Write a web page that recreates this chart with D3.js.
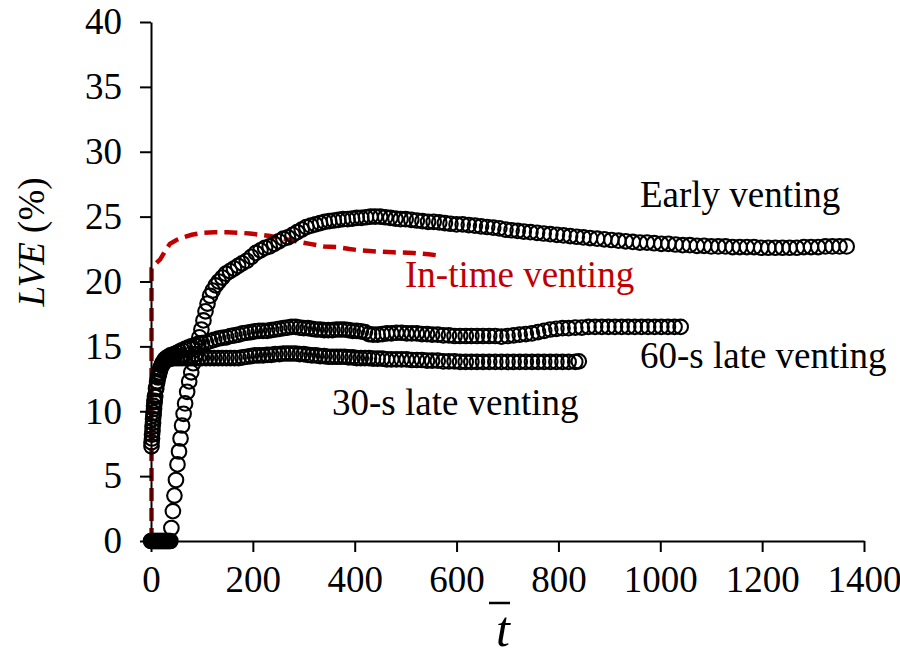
<!DOCTYPE html>
<html>
<head>
<meta charset="utf-8">
<script src="https://cdn.jsdelivr.net/npm/d3@7"></script>
<style>
  html, body { margin: 0; padding: 0; background: #fff; }
  svg { display: block; }
  svg text { font-family: "Liberation Serif", "Times New Roman", Times, "DejaVu Serif", serif !important; }
</style>
</head>
<body>
<svg id="chart" width="900" height="659"></svg>
<script>
// ---- Data ----
const xTicks = [0, 200, 400, 600, 800, 1000, 1200, 1400];
const yTicks = [0, 5, 10, 15, 20, 25, 30, 35, 40];

const seriesLabels = ["Early venting", "In-time venting", "60-s late venting", "30-s late venting"];

// In-time venting (red dashed line): [t, LVE]
const inTimeVenting = [[1,0],[1,21.0],[5,21.2],[10,21.4],[18,21.7],[27,22.3],[37,22.9],[50,23.2],[63,23.4],[80,23.6],[102,23.75],[125,23.8],[149,23.8],[175,23.75],[194,23.7],[214,23.6],[234,23.5],[260,23.3],[285,23.1],[312,22.9],[340,22.7],[365,22.65],[390,22.5],[410,22.4],[450,22.3],[476,22.25],[515,22.2],[545,22.1],[566,22.0]];

// Early venting (open circles)
const earlyVenting = [[0,0],[2,0],[4,0],[6,0],[8,0],[10,0],[12,0],[14,0],[16,0],[18,0],[20,0],[22,0],[24,0],[26,0],[28,0],[30,0],[32,0],[34,0],[36,0],[38,0],
[40,1.0],[43,2.3],[46,3.5],[49,4.7],[52,5.9],[55,6.9],[58,7.9],[61,8.9],[64,9.8],[67,10.6],[71,11.5],[75,12.3],[79,13.0],[83,13.7],[87,14.4],[91,15.0],[95,15.7],[99,16.3],[103,17.0],[107,17.7],[111,18.3],[116,18.9],[121,19.3],[127,19.7],[133,20.0],[140,20.3],[147,20.6],[155,20.8],[163,21.0],[171,21.2],[179,21.4],[188,21.6],[197,21.9],[206,22.2],[215,22.4],[224,22.6],[233,22.7],[242,22.9],[251,23.1],[260,23.3],[269,23.4],[278,23.6],[287,23.8],[296,24.0],[305,24.2],[314,24.3],[323,24.4],[332,24.5],[341,24.6],[350,24.65],[359,24.7],[368,24.75],[377,24.8],[386,24.8],[395,24.85],[404,24.9],[413,24.9],[422,24.95],[431,25.0],[440,25.0],[450,25.0],[460,24.95],[470,24.9],[480,24.85],[490,24.8],[500,24.8],[511,24.75],[522,24.7],[533,24.65],[544,24.6],[555,24.6],[566,24.55],[577,24.5],[588,24.45],[600,24.4],[612,24.4],[624,24.35],[636,24.3],[648,24.25],[660,24.2],[672,24.15],[684,24.1],[696,24.0],[708,23.95],[720,23.9],[732,23.85],[745,23.8],[758,23.75],[771,23.7],[784,23.65],[797,23.6],[810,23.55],[823,23.5],[836,23.45],[849,23.4],[862,23.35],[876,23.3],[890,23.25],[904,23.2],[918,23.15],[932,23.1],[946,23.05],[960,23.0],[974,23.0],[988,22.95],[1002,22.9],[1016,22.9],[1030,22.85],[1044,22.8],[1058,22.8],[1072,22.75],[1086,22.75],[1100,22.7],[1114,22.7],[1128,22.7],[1142,22.65],[1156,22.65],[1170,22.65],[1184,22.65],[1198,22.6],[1212,22.6],[1226,22.6],[1240,22.6],[1254,22.6],[1268,22.6],[1282,22.65],[1296,22.65],[1310,22.65],[1324,22.7],[1338,22.7],[1352,22.7],[1366,22.7]];

// 60-s late venting (open circles)
const late60Venting = [[1,7.6],[2,8.2],[3,8.8],[4,9.4],[5,9.9],[6,10.4],[7,10.8],[8,11.2],[10,11.8],[12,12.3],[14,12.7],[16,13.0],[18,13.3],[21,13.6],[24,13.8],[27,14.0],[30,14.1],[34,14.2],[38,14.3],[42,14.35],[46,14.4],[51,14.5],[56,14.6],[61,14.7],[67,14.8],[73,14.9],[79,15.0],[86,15.1],[93,15.2],[100,15.25],[108,15.3],[116,15.4],[124,15.5],[132,15.6],[140,15.65],[148,15.7],[156,15.8],[164,15.85],[172,15.9],[180,16.0],[188,16.05],[196,16.1],[204,16.15],[212,16.2],[220,16.2],[228,16.2],[236,16.25],[244,16.3],[252,16.35],[260,16.4],[268,16.45],[276,16.5],[284,16.5],[292,16.45],[300,16.4],[308,16.4],[316,16.35],[324,16.3],[332,16.3],[340,16.25],[348,16.25],[356,16.25],[364,16.3],[372,16.3],[380,16.3],[388,16.25],[396,16.2],[404,16.2],[412,16.15],[420,16.1],[428,15.95],[436,15.9],[445,15.9],[454,15.95],[463,16.0],[472,16.0],[482,16.05],[492,16.05],[502,16.0],[512,16.0],[522,16.0],[532,15.95],[542,15.95],[552,15.9],[563,15.9],[574,15.85],[585,15.85],[596,15.8],[607,15.8],[618,15.8],[629,15.8],[640,15.8],[652,15.8],[664,15.8],[676,15.8],[688,15.75],[700,15.8],[712,15.85],[724,15.9],[736,15.95],[748,16.0],[760,16.1],[772,16.2],[784,16.3],[796,16.35],[808,16.4],[820,16.4],[833,16.45],[846,16.45],[859,16.5],[872,16.5],[885,16.5],[898,16.5],[911,16.5],[924,16.5],[937,16.5],[950,16.5],[963,16.5],[976,16.5],[989,16.5],[1002,16.5],[1015,16.5],[1028,16.5],[1040,16.5]];

// 30-s late venting (open circles)
const late30Venting = [[1,7.3],[2,7.9],[3,8.5],[4,9.1],[5,9.7],[6,10.2],[7,10.7],[8,11.1],[10,11.7],[12,12.2],[14,12.6],[16,12.9],[18,13.2],[21,13.5],[24,13.7],[27,13.85],[30,13.95],[34,14.0],[38,14.05],[42,14.1],[46,14.1],[51,14.1],[56,14.1],[61,14.1],[67,14.1],[73,14.1],[79,14.1],[86,14.1],[93,14.1],[100,14.1],[108,14.1],[116,14.1],[124,14.1],[132,14.1],[140,14.1],[148,14.1],[156,14.1],[164,14.1],[172,14.1],[180,14.15],[188,14.2],[196,14.25],[204,14.3],[212,14.3],[220,14.3],[228,14.35],[236,14.35],[244,14.4],[252,14.4],[260,14.45],[268,14.45],[276,14.45],[284,14.45],[292,14.4],[300,14.4],[308,14.35],[316,14.3],[324,14.3],[332,14.25],[340,14.25],[348,14.2],[356,14.2],[364,14.2],[372,14.2],[380,14.2],[388,14.15],[396,14.15],[404,14.1],[412,14.1],[420,14.1],[428,14.1],[436,14.05],[445,14.05],[454,14.05],[463,14.0],[472,14.0],[482,14.0],[492,14.0],[502,14.0],[512,13.95],[522,13.95],[532,13.95],[542,13.9],[552,13.9],[563,13.9],[574,13.85],[585,13.85],[596,13.85],[607,13.8],[618,13.8],[629,13.8],[640,13.8],[652,13.8],[664,13.8],[676,13.8],[688,13.8],[700,13.8],[712,13.8],[724,13.8],[736,13.8],[748,13.8],[760,13.8],[772,13.8],[784,13.8],[796,13.8],[808,13.8],[820,13.8],[833,13.8],[840,13.85]];

// ---- Drawing ----
const SERIF = "'Liberation Serif', 'Times New Roman', Times, 'DejaVu Serif', serif";
const svg = d3.select("#chart").style("font-family", SERIF);
const x = d3.scaleLinear().domain([0, 1400]).range([151, 864]);
const y = d3.scaleLinear().domain([0, 40]).range([541, 22]);
const RED = "#c00000";
const FS = 37;

// In-time venting line (behind markers)
svg.append("path")
  .datum(inTimeVenting)
  .attr("fill", "none")
  .attr("stroke", RED)
  .attr("stroke-width", 4.5)
  .attr("stroke-dasharray", "13,7")
  .attr("d", d3.line().x(d => x(d[0])).y(d => y(d[1])));

// Open-circle series
const circleSeries = [earlyVenting, late60Venting, late30Venting];
circleSeries.forEach(s => {
  svg.append("g").selectAll("circle").data(s).join("circle")
    .attr("cx", d => x(d[0]))
    .attr("cy", d => y(d[1]))
    .attr("r", 7.3)
    .attr("fill", "none")
    .attr("stroke", "#000")
    .attr("stroke-width", 2.1);
});

// Axes
const yAxis = d3.axisLeft(y).tickValues(yTicks).tickFormat(d3.format("d"))
  .tickSize(11).tickSizeOuter(0).tickPadding(18);
const gy = svg.append("g").attr("transform", "translate(151,0)").call(yAxis)
  .attr("font-family", null).attr("font-size", null);
gy.select(".domain").attr("stroke-width", 2);
gy.selectAll(".tick line").attr("stroke-width", 2);
gy.selectAll("text").style("font-family", SERIF).style("font-size", FS + "px").attr("fill", "#000");

const xAxis = d3.axisBottom(x).tickValues(xTicks).tickFormat(d3.format("d"))
  .tickSize(11).tickSizeOuter(0).tickPadding(14);
const gx = svg.append("g").attr("transform", "translate(0,541)").call(xAxis)
  .attr("font-family", null).attr("font-size", null);
gx.select(".domain").attr("stroke-width", 2);
gx.selectAll(".tick line").attr("stroke-width", 2);
gx.selectAll("text").style("font-family", SERIF).style("font-size", FS + "px").attr("fill", "#000");

// Axis titles
const yl = svg.append("text")
  .attr("transform", "translate(44,242) rotate(-90)")
  .attr("text-anchor", "middle")
  .style("font-family", SERIF)
  .style("font-size", FS + "px");
yl.append("tspan").attr("font-style", "italic").text("LVE");
yl.append("tspan").text(" (%)");

svg.append("text")
  .attr("x", 503).attr("y", 646)
  .attr("text-anchor", "middle")
  .style("font-family", SERIF)
  .style("font-size", "50px")
  .attr("font-style", "italic")
  .text("t");
svg.append("line")
  .attr("x1", 489).attr("x2", 510)
  .attr("y1", 603).attr("y2", 603)
  .attr("stroke", "#000").attr("stroke-width", 2.5);

// Series annotations
const ann = (tx, ty, txt, col) => svg.append("text").attr("x", tx).attr("y", ty)
  .style("font-family", SERIF).style("font-size", FS + "px").attr("fill", col).text(txt);
ann(640, 207, seriesLabels[0], "#000");
ann(405, 287, seriesLabels[1], RED);
ann(640, 368, seriesLabels[2], "#000");
ann(332, 415, seriesLabels[3], "#000");
</script>
</body>
</html>
